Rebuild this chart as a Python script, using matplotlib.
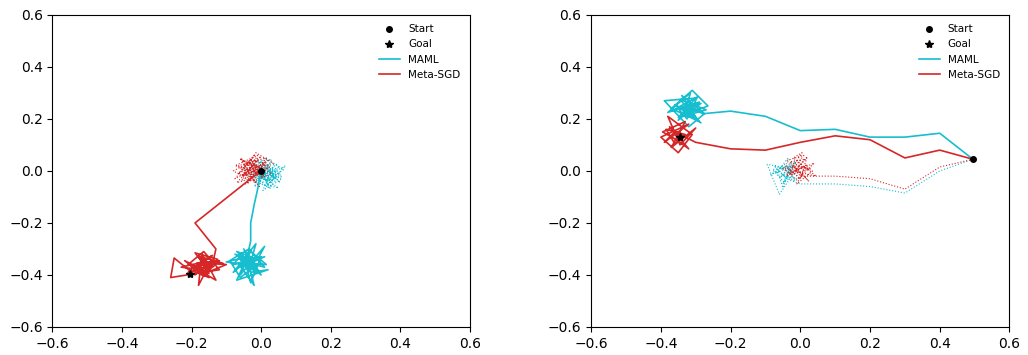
import matplotlib.pyplot as plt

cyan = '#17becf'
red = '#d62728'

# ---- left panel ----
l_start = (0.0, 0.0)
l_goal = (-0.205, -0.395)

l_maml_x = [0.0, -0.01, -0.02, -0.03, -0.03, -0.04, -0.02, -0.07, -0.01, 0.01, -0.06, -0.045, -0.03,
            0.0, -0.08, -0.055, -0.02, -0.05, 0.01, -0.035, -0.09, -0.06, -0.01, -0.065, -0.03, 0.02,
            -0.07, -0.04, -0.10, -0.025, -0.05, 0.0, -0.06, -0.035, -0.015, -0.08, -0.045, 0.01,
            -0.055, -0.03, 0.015, -0.065, -0.02, -0.04, -0.075, -0.01, -0.05, -0.035, -0.06, -0.02]
l_maml_y = [0.0, -0.07, -0.13, -0.20, -0.27, -0.33, -0.37, -0.31, -0.34, -0.29, -0.40, -0.355, -0.43,
            -0.33, -0.36, -0.32, -0.385, -0.35, -0.37, -0.30, -0.345, -0.41, -0.36, -0.33, -0.39, -0.38,
            -0.42, -0.33, -0.35, -0.365, -0.30, -0.40, -0.34, -0.375, -0.28, -0.39, -0.35, -0.33,
            -0.37, -0.31, -0.36, -0.355, -0.44, -0.34, -0.32, -0.38, -0.36, -0.33, -0.37, -0.35]

l_sgd_x = [0.0, -0.03, -0.19, -0.13, -0.14, -0.18, -0.15, -0.21, -0.165, -0.12, -0.26, -0.25, -0.19,
           -0.145, -0.18, -0.17, -0.13, -0.195, -0.22, -0.155, -0.10, -0.175, -0.14, -0.205, -0.15,
           -0.185, -0.12, -0.16, -0.21, -0.135, -0.17, -0.125, -0.19, -0.155, -0.165, -0.23, -0.145,
           -0.175, -0.11, -0.18, -0.16, -0.2, -0.15]
l_sgd_y = [0.0, -0.03, -0.20, -0.30, -0.36, -0.33, -0.395, -0.36, -0.31, -0.38, -0.41, -0.335, -0.40,
           -0.35, -0.44, -0.32, -0.42, -0.37, -0.345, -0.39, -0.36, -0.35, -0.325, -0.38, -0.41, -0.355,
           -0.345, -0.37, -0.39, -0.365, -0.40, -0.34, -0.315, -0.375, -0.35, -0.37, -0.385, -0.33,
           -0.355, -0.36, -0.405, -0.37, -0.36]

l_maml_dot_x = [0.0, 0.025, -0.01, 0.045, 0.015, 0.07, -0.02, 0.035, 0.005, 0.06, -0.03, 0.03, -0.005,
                0.05, -0.015, 0.02, 0.04, -0.04, 0.01, 0.065, 0.03, -0.02, 0.015, 0.055, 0.0, 0.035,
                -0.01, 0.045, -0.05, 0.02, 0.0, 0.05, 0.01, -0.025, 0.03, 0.06, -0.01, 0.025, 0.04,
                -0.03, 0.01, 0.055, 0.02, -0.015, 0.035, 0.0]
l_maml_dot_y = [0.0, -0.035, 0.02, -0.01, -0.06, 0.02, -0.045, 0.015, -0.075, -0.03, 0.03, 0.045, -0.05,
                -0.065, -0.01, 0.025, -0.04, -0.02, 0.05, 0.005, -0.025, -0.06, 0.01, -0.045, 0.035,
                -0.015, -0.03, 0.025, 0.01, -0.04, -0.02, 0.015, -0.055, 0.0, -0.035, -0.02, 0.04,
                -0.07, 0.0, -0.03, 0.03, -0.01, -0.05, 0.02, -0.025, -0.01]

l_sgd_dot_x = [0.0, -0.035, 0.01, -0.05, -0.02, -0.075, 0.02, -0.045, -0.01, -0.06, 0.03, -0.025, -0.08,
               0.0, -0.055, -0.015, 0.035, -0.04, -0.005, -0.065, 0.015, -0.03, -0.07, -0.02, 0.02,
               -0.05, -0.01, -0.04, 0.005, -0.035, -0.06, -0.02, 0.01, -0.045, -0.025, -0.075, -0.01,
               -0.055, 0.025, -0.03, -0.065, -0.015, -0.04, 0.0, -0.02]
l_sgd_dot_y = [0.0, 0.03, -0.02, 0.01, 0.06, -0.03, 0.04, -0.05, 0.02, 0.045, -0.01, -0.04, 0.0, 0.055,
               -0.02, 0.07, 0.03, 0.005, -0.06, 0.02, 0.05, -0.03, -0.045, 0.025, 0.01, -0.015, 0.04,
               0.03, -0.025, 0.015, 0.05, -0.04, 0.035, -0.02, 0.0, 0.02, 0.06, -0.035, 0.015, 0.045,
               -0.01, 0.025, -0.05, 0.01, 0.0]

# ---- right panel ----
r_start = (0.495, 0.045)
r_goal = (-0.345, 0.13)

r_maml_x = [0.495, 0.40, 0.30, 0.20, 0.10, 0.0, -0.10, -0.20, -0.28, -0.33, -0.29, -0.37, -0.31,
            -0.265, -0.35, -0.30, -0.39, -0.32, -0.275, -0.34, -0.305, -0.36, -0.285, -0.33, -0.315,
            -0.38, -0.29, -0.35, -0.32, -0.30, -0.345, -0.27, -0.335, -0.31, -0.37, -0.295, -0.325,
            -0.35, -0.285, -0.32, -0.34, -0.30, -0.33]
r_maml_y = [0.045, 0.145, 0.13, 0.13, 0.16, 0.155, 0.21, 0.23, 0.22, 0.26, 0.19, 0.24, 0.31, 0.25,
            0.205, 0.28, 0.27, 0.17, 0.22, 0.29, 0.215, 0.255, 0.185, 0.235, 0.30, 0.225, 0.265, 0.195,
            0.245, 0.205, 0.275, 0.235, 0.21, 0.255, 0.23, 0.285, 0.20, 0.24, 0.26, 0.22, 0.25, 0.23,
            0.24]

r_sgd_x = [0.495, 0.40, 0.30, 0.20, 0.10, 0.0, -0.10, -0.20, -0.30, -0.36, -0.39, -0.32, -0.40, -0.35,
           -0.31, -0.38, -0.345, -0.30, -0.37, -0.33, -0.395, -0.355, -0.32, -0.375, -0.34, -0.36,
           -0.385, -0.33, -0.35]
r_sgd_y = [0.045, 0.08, 0.05, 0.12, 0.135, 0.11, 0.08, 0.085, 0.11, 0.15, 0.11, 0.18, 0.13, 0.07,
           0.14, 0.21, 0.10, 0.165, 0.09, 0.19, 0.15, 0.12, 0.085, 0.17, 0.13, 0.105, 0.16, 0.14,
           0.125]

r_maml_dot_x = [0.495, 0.40, 0.30, 0.20, 0.10, 0.0, -0.04, -0.075, -0.02, -0.06, -0.095, -0.03, -0.05,
                -0.01, -0.085, -0.04, -0.015, -0.065, -0.05, -0.025, -0.07, -0.035, -0.005, -0.055,
                -0.03, -0.08, -0.045, -0.015, -0.06, -0.02]
r_maml_dot_y = [0.045, 0.0, -0.085, -0.06, -0.05, -0.05, -0.03, 0.02, -0.01, -0.09, 0.025, 0.01, -0.05,
                0.04, -0.015, 0.03, -0.04, 0.0, -0.065, 0.02, -0.01, 0.05, -0.03, -0.02, 0.015, 0.005,
                -0.045, 0.03, -0.025, 0.0]

r_sgd_dot_x = [0.495, 0.40, 0.30, 0.20, 0.10, 0.0, -0.02, 0.025, -0.04, 0.01, -0.03, 0.04, -0.01,
               -0.05, 0.045, -0.02, 0.005, -0.04, 0.02, -0.01, 0.035, -0.03, 0.015, -0.025, 0.03,
               -0.045, 0.0, 0.02, -0.015, 0.01]
r_sgd_dot_y = [0.045, 0.015, -0.07, -0.03, -0.02, -0.02, 0.02, -0.04, 0.04, 0.06, -0.01, 0.03, -0.035,
               0.01, -0.02, 0.05, 0.07, -0.02, 0.025, -0.05, 0.0, 0.035, 0.045, -0.015, 0.01, 0.02,
               -0.03, 0.055, 0.005, 0.015]

fig = plt.figure(figsize=(10.28, 3.55), dpi=100)
ax1 = fig.add_axes([0.051, 0.079, 0.406, 0.879])
ax2 = fig.add_axes([0.575, 0.079, 0.407, 0.879])

panels = [
    (ax1, l_start, l_goal, l_maml_x, l_maml_y, l_sgd_x, l_sgd_y,
     l_maml_dot_x, l_maml_dot_y, l_sgd_dot_x, l_sgd_dot_y),
    (ax2, r_start, r_goal, r_maml_x, r_maml_y, r_sgd_x, r_sgd_y,
     r_maml_dot_x, r_maml_dot_y, r_sgd_dot_x, r_sgd_dot_y),
]

for ax, st, gl, mx, my, sx, sy, mdx, mdy, sdx, sdy in panels:
    ax.plot(mdx, mdy, ':', color=cyan, lw=0.8)
    ax.plot(sdx, sdy, ':', color=red, lw=0.8)
    ax.plot(st[0], st[1], 'o', color='k', ms=4, label='Start', zorder=5)
    ax.plot(gl[0], gl[1], '*', color='k', ms=6, label='Goal', zorder=5)
    ax.plot(mx, my, '-', color=cyan, lw=1.2, label='MAML')
    ax.plot(sx, sy, '-', color=red, lw=1.2, label='Meta-SGD')
    ax.set_xlim(-0.6, 0.6)
    ax.set_ylim(-0.6, 0.6)
    ax.set_xticks([-0.6, -0.4, -0.2, 0.0, 0.2, 0.4, 0.6])
    ax.set_yticks([-0.6, -0.4, -0.2, 0.0, 0.2, 0.4, 0.6])
    ax.tick_params(labelsize=10)
    ax.legend(loc='upper right', frameon=False, fontsize=7.5)

fig.savefig('out.png', dpi=100)
